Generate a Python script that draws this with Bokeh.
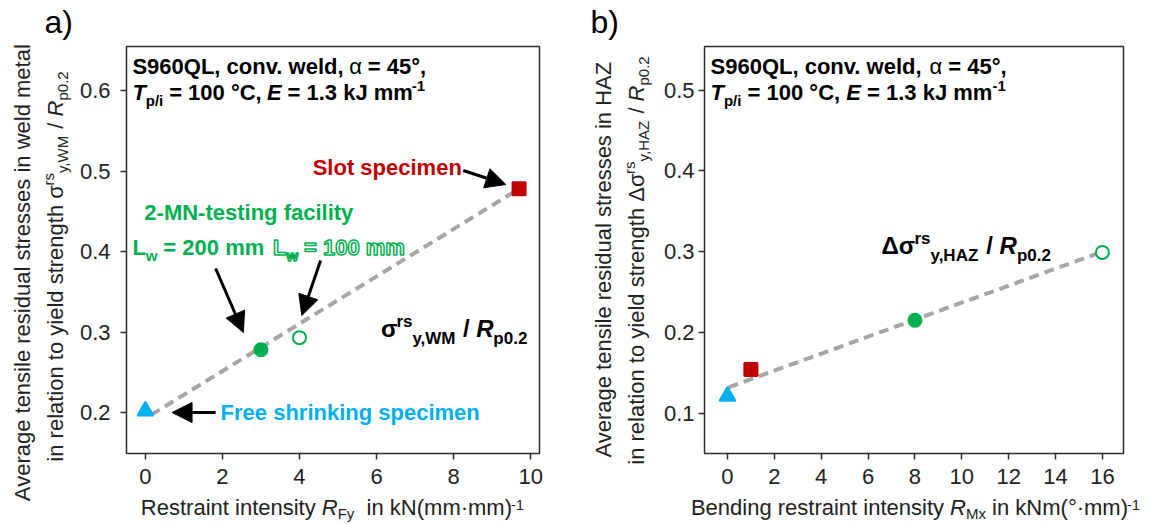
import math
from bokeh.plotting import figure
from bokeh.models import Label, Arrow, NormalHead, Range1d, FixedTicker, ColumnDataSource
from bokeh.layouts import row, column
from bokeh.embed import file_html
from bokeh.resources import INLINE

# ---------------- data ----------------
a_xticks = [0, 2, 4, 6, 8, 10]
a_yticks = [0.2, 0.3, 0.4, 0.5, 0.6]
b_xticks = [0, 2, 4, 6, 8, 10, 12, 14, 16]
b_yticks = [0.1, 0.2, 0.3, 0.4, 0.5]

# specimen order: free shrinking, 2-MN Lw=200 mm, 2-MN Lw=100 mm, slot specimen
specimens = ["Free shrinking specimen", "2-MN Lw = 200 mm", "2-MN Lw = 100 mm", "Slot specimen"]
a_restraint = [0.0, 3.0, 4.0, 9.7]          # R_Fy in kN(mm*mm)^-1
a_wm_ratio = [0.202, 0.278, 0.293, 0.478]   # sigma_rs_y,WM / Rp0.2
b_restraint = [0.0, 8.0, 16.0, 1.0]         # R_Mx in kNm(deg*mm)^-1
b_haz_ratio = [0.121, 0.215, 0.299, 0.154]  # d sigma_rs_y,HAZ / Rp0.2

a_trend_x = [0.15, 9.7]
a_trend_y = [0.197, 0.478]
b_trend_x = [0.05, 16.0]
b_trend_y = [0.132, 0.300]

# ---------------- styles ----------------
BLUE = "#00b0f0"
GREEN = "#00b050"
RED = "#c00000"
GREY = "#a6a6a6"
INK = "#222222"
FONT = "Liberation Sans, Arial, sans-serif"
BASE_FIX = 0.37  # empirical baseline correction (fraction of font size)
mk_marker = ["triangle", "circle", "circle", "square"]
mk_fill = [BLUE, GREEN, "white", RED]
mk_line = [BLUE, GREEN, GREEN, RED]
mk_size = [16, 13, 13, 13]

# Arial / Liberation Sans metrics (per 1000 em) for text layout
_REG = dict(zip("ABCDEFGHIJKLMNOPQRSTUVWXYZ",
                [667, 667, 722, 722, 667, 611, 778, 722, 278, 500, 667, 556, 833, 722, 778, 667, 778, 722, 667, 611, 722, 667, 944, 667, 667, 611]))
_REG.update(zip("abcdefghijklmnopqrstuvwxyz",
                [556, 556, 500, 556, 556, 278, 556, 556, 222, 222, 500, 222, 833, 556, 556, 556, 556, 333, 500, 278, 556, 500, 722, 500, 500, 500]))
_REG.update({" ": 278, "(": 333, ")": 333, ",": 278, "-": 333, ".": 278, "/": 278, "=": 584,
             "°": 400, "·": 278, "α": 578, "σ": 600, "Δ": 668})
_BOLD = dict(zip("ABCDEFGHIJKLMNOPQRSTUVWXYZ",
                 [722, 722, 722, 722, 667, 611, 778, 722, 278, 556, 722, 611, 833, 722, 778, 667, 778, 722, 667, 611, 722, 667, 944, 667, 667, 611]))
_BOLD.update(zip("abcdefghijklmnopqrstuvwxyz",
                 [556, 611, 556, 611, 556, 333, 611, 611, 278, 278, 556, 278, 889, 611, 611, 611, 611, 389, 556, 333, 611, 556, 778, 556, 556, 500]))
_BOLD.update({" ": 278, "(": 333, ")": 333, ",": 278, "-": 333, ".": 278, "/": 278, "=": 584,
              "°": 400, "·": 278, "α": 620, "σ": 650, "Δ": 720})


def tw(s, size, style):
    tbl = _BOLD if "bold" in style else _REG
    return sum(tbl.get(c, 556) for c in s) * size / 1000.0


def make_conv(X0, X1, Y0, Y1, fl, fr, ft=46, fb=453):
    def cx(px):
        return X0 + (px - fl) * (X1 - X0) / (fr - fl)

    def cy(py):
        return Y0 + (fb - py) * (Y1 - Y0) / (fb - ft)
    return cx, cy


def page_conv(ox):
    # for text-holder figures whose bottom edge is the page bottom (y=524)
    return (lambda px: px - ox), (lambda py: 524 - py)


def _split(t):
    lead = len(t) - len(t.lstrip(" "))
    return t[:lead], t.strip(" ")


def rich_h(p, cv, runs, x0, base, color, align="left", **kw):
    cx, cy = cv
    total = sum(tw(t, s, st) for t, s, st, sh in runs)
    x = x0 - total / 2 if align == "center" else x0
    for t, s, st, sh in runs:
        lead, body = _split(t)
        p.add_layout(Label(x=cx(x + tw(lead, s, st)), y=cy(base - sh - BASE_FIX * s), text=body,
                           text_font=FONT, text_font_size=f"{s}px", text_font_style=st, text_color=color,
                           text_align="left", text_baseline="alphabetic", **kw))
        x += tw(t, s, st)


def rich_v(p, cv, runs, xb, center, color):
    cx, cy = cv
    total = sum(tw(t, s, st) for t, s, st, sh in runs)
    y = center + total / 2
    for t, s, st, sh in runs:
        lead, body = _split(t)
        p.add_layout(Label(x=cx(xb - sh - BASE_FIX * s), y=cy(y - tw(lead, s, st)), text=body,
                           text_font=FONT, text_font_size=f"{s}px", text_font_style=st, text_color=color,
                           angle=math.pi / 2, text_align="left", text_baseline="alphabetic"))
        y -= tw(t, s, st)


def arrow(p, cv, x0, y0, x1, y1):
    cx, cy = cv
    p.add_layout(Arrow(x_start=cx(x0), y_start=cy(y0), x_end=cx(x1), y_end=cy(y1),
                       line_width=3, line_color="black",
                       end=NormalHead(size=20, fill_color="black", line_color="black", line_width=1)))


def text_fig(w, h):
    p = figure(width=w, height=h, x_range=Range1d(0, w), y_range=Range1d(0, h),
               output_backend="svg", toolbar_location=None, title=None,
               x_axis_type=None, y_axis_type=None,
               min_border_left=0, min_border_right=0, min_border_top=0, min_border_bottom=0)
    p.xgrid.visible = False
    p.ygrid.visible = False
    p.outline_line_color = None
    p.background_fill_color = "white"
    p.border_fill_color = "white"
    return p


MAIN_H = 494


def make_fig(w, xr, yr, bl, br, xt, yt):
    p = figure(width=w, height=MAIN_H, x_range=Range1d(*xr), y_range=Range1d(*yr),
               output_backend="svg", toolbar_location=None, title=None,
               min_border_left=bl, min_border_right=br, min_border_top=46, min_border_bottom=MAIN_H - 453)
    p.xgrid.visible = False
    p.ygrid.visible = False
    p.outline_line_color = "#2b2b2b"
    p.outline_line_width = 1.5
    p.background_fill_color = "white"
    p.border_fill_color = "white"
    p.xaxis.ticker = FixedTicker(ticks=xt)
    p.yaxis.ticker = FixedTicker(ticks=yt)
    for ax in (p.xaxis, p.yaxis):
        ax.axis_line_color = None
        ax.major_tick_in = 0
        ax.major_tick_out = 6
        ax.major_tick_line_color = "#2b2b2b"
        ax.major_tick_line_width = 1.5
        ax.minor_tick_line_color = None
        ax.major_label_text_font = FONT
        ax.major_label_text_font_size = "22px"
        ax.major_label_text_color = INK
    p.xaxis.major_label_standoff = 9
    p.yaxis.major_label_standoff = 10
    return p


def add_points(p, xs, ys, tx, ty):
    p.line(tx, ty, line_color=GREY, line_width=4, line_dash="10 6")
    src = ColumnDataSource(dict(x=xs, y=ys, m=mk_marker, f=mk_fill, l=mk_line, s=mk_size))
    p.scatter("x", "y", source=src, marker="m", fill_color="f", line_color="l", size="s", line_width=2)


def box_text(p, cv, x0):
    rich_h(p, cv, [("S960QL, conv. weld, ", 22, "bold", 0), ("α", 22, "normal", 0),
                   (" = 45°,", 22, "bold", 0)], x0, 74, "black")
    rich_h(p, cv, [("T", 22, "bold italic", 0), ("p/i", 15, "bold", -6),
                   (" = 100 °C, ", 22, "bold", 0), ("E", 22, "bold italic", 0),
                   (" = 1.3 kJ mm", 22, "bold", 0), ("-1", 15, "bold", 9)], x0, 100, "black")


# ---------------- panel a ----------------
ta = text_fig(76, 524)
cta = page_conv(0)
rich_h(ta, cta, [("a)", 32, "normal", 0)], 44, 33, "black")
rich_v(ta, cta, [("Average tensile residual stresses in weld metal", 22, "normal", 0)], 30, 272, INK)
rich_v(ta, cta, [("in relation to yield strength ", 22, "normal", 0), ("σ", 22, "normal", 0),
                 ("rs", 15, "normal", 9), ("y,WM", 15, "normal", -5), (" / ", 22, "normal", 0),
                 ("R", 22, "italic", 0), ("p0.2", 15, "normal", -5)], 63, 266, INK)

pa = make_fig(499, (-0.49, 10.23), (0.149, 0.655), 46, 36, a_xticks, a_yticks)
cva = make_conv(-0.49, 10.23, 0.149, 0.655, 122, 539)
add_points(pa, a_restraint, a_wm_ratio, a_trend_x, a_trend_y)
box_text(pa, cva, 128)
rich_h(pa, cva, [("Slot specimen", 22, "bold", 0)], 310, 175, RED)
rich_h(pa, cva, [("2-MN-testing facility", 22, "bold", 0)], 140, 220, GREEN)
rich_h(pa, cva, [("L", 22, "bold", 0), ("w", 15, "bold", -6), (" = 200 mm", 22, "bold", 0)], 128, 255, GREEN)
rich_h(pa, cva, [("L", 22, "bold", 0), ("w", 15, "bold", -6), (" = 100 mm", 22, "bold", 0)], 270, 255, "white",
       text_outline_color=GREEN)
rich_h(pa, cva, [("Free shrinking specimen", 22, "bold", 0)], 217, 420, BLUE)
rich_h(pa, cva, [("σ", 24, "bold", 0), ("rs", 17, "bold", 10), ("y,WM", 17, "bold", -7),
                 (" / ", 24, "bold", 0), ("R", 24, "bold italic", 0), ("p0.2", 17, "bold", -7)], 379, 337, "black")
arrow(pa, cva, 462, 170, 505, 184)
arrow(pa, cva, 212, 268, 240, 332)
arrow(pa, cva, 318, 260, 299, 315)
arrow(pa, cva, 212, 412, 168, 412)

ba = text_fig(499, 524 - MAIN_H)
cba = page_conv(76)
rich_h(ba, cba, [("Restraint intensity ", 22, "normal", 0), ("R", 22, "italic", 0), ("Fy", 15, "normal", -4),
                 ("  in kN(mm·mm)", 22, "normal", 0), ("-1", 15, "normal", 5)], 332, 515, INK, align="center")

# ---------------- panel b ----------------
tb = text_fig(84, 524)
ctb = page_conv(575)
rich_h(tb, ctb, [("b)", 32, "normal", 0)], 590, 33, "black")
rich_v(tb, ctb, [("Average tensile residual stresses in HAZ", 22, "normal", 0)], 611, 259, INK)
rich_v(tb, ctb, [("in relation to yield strength ", 22, "normal", 0), ("Δσ", 22, "normal", 0),
                 ("rs", 15, "normal", 9), ("y,HAZ", 15, "normal", -5), (" / ", 22, "normal", 0),
                 ("R", 22, "italic", 0), ("p0.2", 15, "normal", -5)], 644, 260, INK)

pb = make_fig(491, (-0.98, 16.9), (0.05, 0.554), 45, 27, b_xticks, b_yticks)
pb.yaxis.major_label_standoff = 4
cvb = make_conv(-0.98, 16.9, 0.05, 0.554, 704, 1123)
add_points(pb, b_restraint, b_haz_ratio, b_trend_x, b_trend_y)
box_text(pb, cvb, 710)
rich_h(pb, cvb, [("Δσ", 24, "bold", 0), ("rs", 17, "bold", 10), ("y,HAZ", 17, "bold", -7),
                 (" / ", 24, "bold", 0), ("R", 24, "bold italic", 0), ("p0.2", 17, "bold", -7)], 881, 254, "black")

bb = text_fig(491, 524 - MAIN_H)
cbb = page_conv(659)
rich_h(bb, cbb, [("Bending restraint intensity ", 22, "normal", 0), ("R", 22, "italic", 0), ("Mx", 15, "normal", -4),
                 (" in kNm(°·mm)", 22, "normal", 0), ("-1", 15, "normal", 5)], 915, 515, INK, align="center")

layout = row(ta, column(pa, row(ba)), tb, column(pb, row(bb)))
open("out.html", "w").write(file_html(layout, INLINE))
